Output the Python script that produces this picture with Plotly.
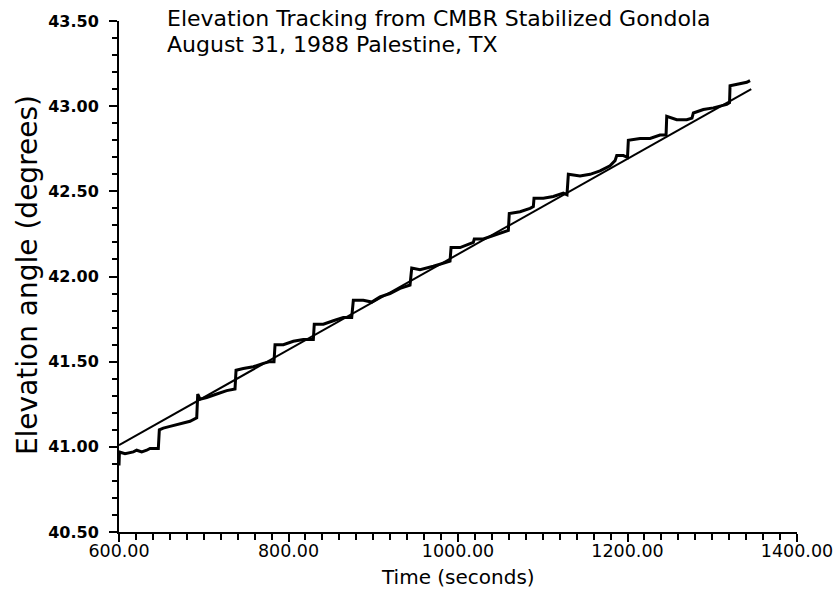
import plotly.graph_objects as go

time_s = [600.0, 600.5, 607.1, 616.9, 620.9, 626.8, 632.7, 636.6, 640.5, 646.4,
          647.6, 652.3, 660.2, 668.1, 675.9, 683.8, 691.7,
          692.9, 695.6, 703.5, 715.3, 727.1, 736.9,
          738.1, 746.7, 758.5, 770.3, 778.2, 782.9,
          784.1, 793.9, 805.7, 817.5, 829.3,
          830.4, 841.1, 852.9, 864.7, 874.6,
          876.5, 888.3, 898.2, 908.0, 919.8, 931.6, 943.4,
          945.4, 955.2, 970.9, 982.7, 990.6,
          991.8, 1002.4, 1018.1, 1019.2, 1029.9, 1041.7, 1053.5, 1059.4,
          1060.5, 1073.2, 1085.0, 1088.9, 1089.7, 1100.7, 1112.5, 1124.3, 1128.6,
          1130.2, 1144.0, 1155.8, 1167.6, 1179.4, 1185.3, 1187.3, 1195.1, 1200.0,
          1201.0, 1214.8, 1226.6, 1238.4, 1245.5,
          1246.3, 1258.1, 1269.9, 1276.1, 1277.7, 1289.5, 1301.3, 1317.1, 1320.4,
          1321.0, 1332.8, 1340.7, 1344.6]
elev_deg = [40.89, 40.97, 40.96, 40.97, 40.98, 40.97, 40.98, 40.99, 40.99, 40.99,
            41.10, 41.11, 41.12, 41.13, 41.14, 41.15, 41.17,
            41.31, 41.28, 41.29, 41.31, 41.33, 41.34,
            41.45, 41.46, 41.47, 41.49, 41.50, 41.50,
            41.60, 41.60, 41.62, 41.63, 41.63,
            41.72, 41.72, 41.74, 41.76, 41.76,
            41.86, 41.86, 41.85, 41.88, 41.90, 41.93, 41.95,
            42.05, 42.04, 42.06, 42.08, 42.09,
            42.17, 42.17, 42.20, 42.22, 42.22, 42.24, 42.26, 42.27,
            42.37, 42.38, 42.40, 42.41, 42.46, 42.46, 42.47, 42.49, 42.48,
            42.60, 42.59, 42.60, 42.62, 42.65, 42.68, 42.71, 42.71, 42.70,
            42.80, 42.81, 42.81, 42.83, 42.83,
            42.94, 42.92, 42.92, 42.93, 42.96, 42.98, 42.99, 43.01, 43.02,
            43.12, 43.13, 43.14, 43.15]

# Straight-line fit
fit_time = [600.0, 1346.0]
fit_elev = [41.01, 43.10]

x_ticks = [600, 800, 1000, 1200, 1400]
y_ticks = [40.5, 41.0, 41.5, 42.0, 42.5, 43.0, 43.5]

title_lines = ["Elevation Tracking from CMBR Stabilized Gondola",
               "August 31, 1988 Palestine, TX"]
x_title = "Time (seconds)"
y_title = "Elevation angle (degrees)"

FONT = "DejaVu Sans"

fig = go.Figure()
fig.add_trace(go.Scatter(x=time_s, y=elev_deg, mode="lines",
                         line=dict(color="black", width=3), showlegend=False))
fig.add_trace(go.Scatter(x=fit_time, y=fit_elev, mode="lines",
                         line=dict(color="black", width=2), showlegend=False))

fig.update_layout(
    width=835, height=593,
    margin=dict(l=119, r=38, t=20.5, b=61, autoexpand=False),
    paper_bgcolor="white", plot_bgcolor="white",
    font=dict(family=FONT, color="black"),
    xaxis=dict(range=[600, 1400], tickvals=x_ticks, tickformat=".2f",
               automargin=False, ticklabelstandoff=-6,
               showgrid=False, zeroline=False, showline=True, linecolor="black",
               linewidth=2, ticks="outside", ticklen=8, tickwidth=2, tickcolor="black",
               tickfont=dict(family=FONT, size=17.5),
               minor=dict(dtick=20, ticks="outside", ticklen=6, tickwidth=2,
                          tickcolor="black", showgrid=False)),
    yaxis=dict(range=[40.5, 43.5], tickvals=y_ticks, tickformat=".2f",
               automargin=False, ticklabelstandoff=7,
               showgrid=False, zeroline=False, showline=True, linecolor="black",
               linewidth=2, ticks="outside", ticklen=8, tickwidth=2, tickcolor="black",
               tickfont=dict(family=FONT, size=16, weight="bold"),
               minor=dict(dtick=0.1, ticks="outside", ticklen=5, tickwidth=2,
                          tickcolor="black", showgrid=False)),
    annotations=[
        dict(text=title_lines[0],
             xref="paper", yref="paper", x=0.068, y=1.005,
             xanchor="left", yanchor="middle", showarrow=False,
             font=dict(family=FONT, size=22)),
        dict(text=title_lines[1],
             xref="paper", yref="paper", x=0.068, y=0.954,
             xanchor="left", yanchor="middle", showarrow=False,
             font=dict(family=FONT, size=22)),
        dict(text=x_title,
             xref="paper", yref="paper", x=0.5, y=-0.089,
             xanchor="center", yanchor="middle", showarrow=False,
             font=dict(family=FONT, size=20)),
        dict(text=y_title, textangle=-90,
             xref="paper", yref="paper", x=-0.134, y=0.503,
             xanchor="center", yanchor="middle", showarrow=False,
             font=dict(family=FONT, size=28)),
    ],
)

fig.write_html("out.html",
               config={"displayModeBar": False, "staticPlot": True},
               post_script="document.body.style.margin='0';"
                           "document.body.style.overflow='hidden';")
